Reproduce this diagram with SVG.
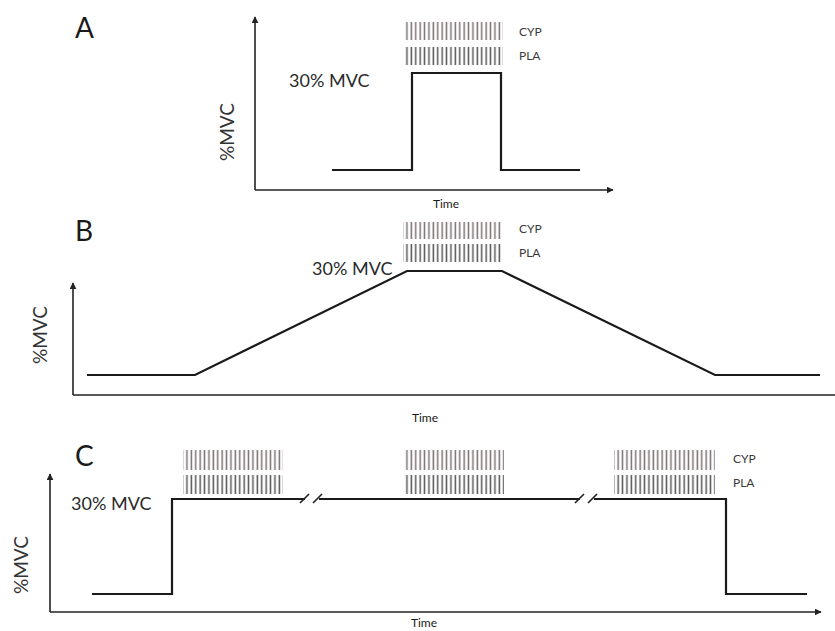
<svg xmlns="http://www.w3.org/2000/svg" width="835" height="631" viewBox="0 0 835 631">
<defs>
<marker id="arr" viewBox="0 0 10 10" refX="9" refY="5" markerWidth="7" markerHeight="7" orient="auto" markerUnits="userSpaceOnUse">
<path d="M0,0 L10,5 L0,10 z" fill="#222"/>
</marker>
<pattern id="hCYP" width="4.4" height="10" patternUnits="userSpaceOnUse">
<rect x="1.4" y="0" width="1.5" height="10" fill="#7a7072"/>
</pattern>
<pattern id="hPLA" width="4.4" height="10" patternUnits="userSpaceOnUse">
<rect x="1.4" y="0" width="1.5" height="10" fill="#555"/>
</pattern>
</defs>
<style>
.ax{stroke:#222;stroke-width:1.6;fill:none}
.sig{stroke:#1a1a1a;stroke-width:2.2;fill:none}
.lt{font-family:Lato,"Open Sans","Liberation Sans",sans-serif;font-size:28px;fill:#1a1a1a}
.mvc{font-family:Lato,"Open Sans","Liberation Sans",sans-serif;font-size:18px;fill:#2a2a2a}
.ylab{font-family:Lato,"Open Sans","Liberation Sans",sans-serif;font-size:19px;fill:#333;text-anchor:middle}
.tm{font-family:Lato,"Open Sans","Liberation Sans",sans-serif;font-size:12px;fill:#1a1a1a;text-anchor:middle}
.lab{font-family:Lato,"Open Sans","Liberation Sans",sans-serif;font-size:12px;fill:#3a3a3a}
.cyp{fill:url(#hCYP)}
.pla{fill:url(#hPLA)}
</style>
<rect width="835" height="631" fill="#fff"/>

<g id="panelA">
<text class="lt" x="75" y="38">A</text>
<path class="ax" d="M255,190 L255,17" marker-end="url(#arr)"/>
<path class="ax" d="M255,190 L613,190" marker-end="url(#arr)"/>
<path class="sig" d="M332,170 L412,170 L412,73 L501,73 L501,170 L580,170"/>
<rect class="cyp" x="404" y="22" width="99" height="18"/>
<rect class="pla" x="404" y="47" width="99" height="18"/>
<text class="lab" x="519" y="36">CYP</text>
<text class="lab" x="519" y="60">PLA</text>
<text class="mvc" x="289" y="87">30% MVC</text>
<text class="ylab" transform="translate(234,132) rotate(-90)">%MVC</text>
<text class="tm" x="446" y="208">Time</text>
</g>

<g id="panelB">
<text class="lt" x="75" y="241">B</text>
<path class="ax" d="M73,395 L73,283" marker-end="url(#arr)"/>
<path class="ax" d="M73,395 L835,395"/>
<path class="sig" d="M87,375 L195,375 L407,271 L502,271 L715,375 L820,375"/>
<rect class="cyp" x="403" y="222" width="98" height="17"/>
<rect class="pla" x="403" y="244" width="98" height="18"/>
<text class="lab" x="519" y="233">CYP</text>
<text class="lab" x="519" y="257">PLA</text>
<text class="mvc" x="312" y="275">30% MVC</text>
<text class="ylab" transform="translate(47,335) rotate(-90)">%MVC</text>
<text class="tm" x="425" y="422">Time</text>
</g>

<g id="panelC">
<text class="lt" x="75" y="466">C</text>
<path class="ax" d="M50,612 L50,474" marker-end="url(#arr)"/>
<path class="ax" d="M50,612 L821,612" marker-end="url(#arr)"/>
<path class="sig" d="M92,594 L172,594 L172,499 L305,499"/>
<path class="sig" d="M319,499 L580,499"/>
<path class="sig" d="M594,499 L726,499 L726,594 L807,594"/>
<path class="ax" d="M300,503 L309,494 M313,503 L322,494 M575,503 L584,494 M588,503 L597,494" stroke-width="1.8"/>
<rect class="cyp" x="183" y="450" width="100" height="20"/>
<rect class="pla" x="183" y="475" width="100" height="19"/>
<rect class="cyp" x="404" y="450" width="100" height="20"/>
<rect class="pla" x="404" y="475" width="100" height="19"/>
<rect class="cyp" x="614" y="450" width="101" height="20"/>
<rect class="pla" x="614" y="475" width="101" height="19"/>
<text class="lab" x="733" y="463">CYP</text>
<text class="lab" x="733" y="487">PLA</text>
<text class="mvc" x="71" y="510">30% MVC</text>
<text class="ylab" transform="translate(28,565) rotate(-90)">%MVC</text>
<text class="tm" x="424" y="627">Time</text>
</g>
</svg>
